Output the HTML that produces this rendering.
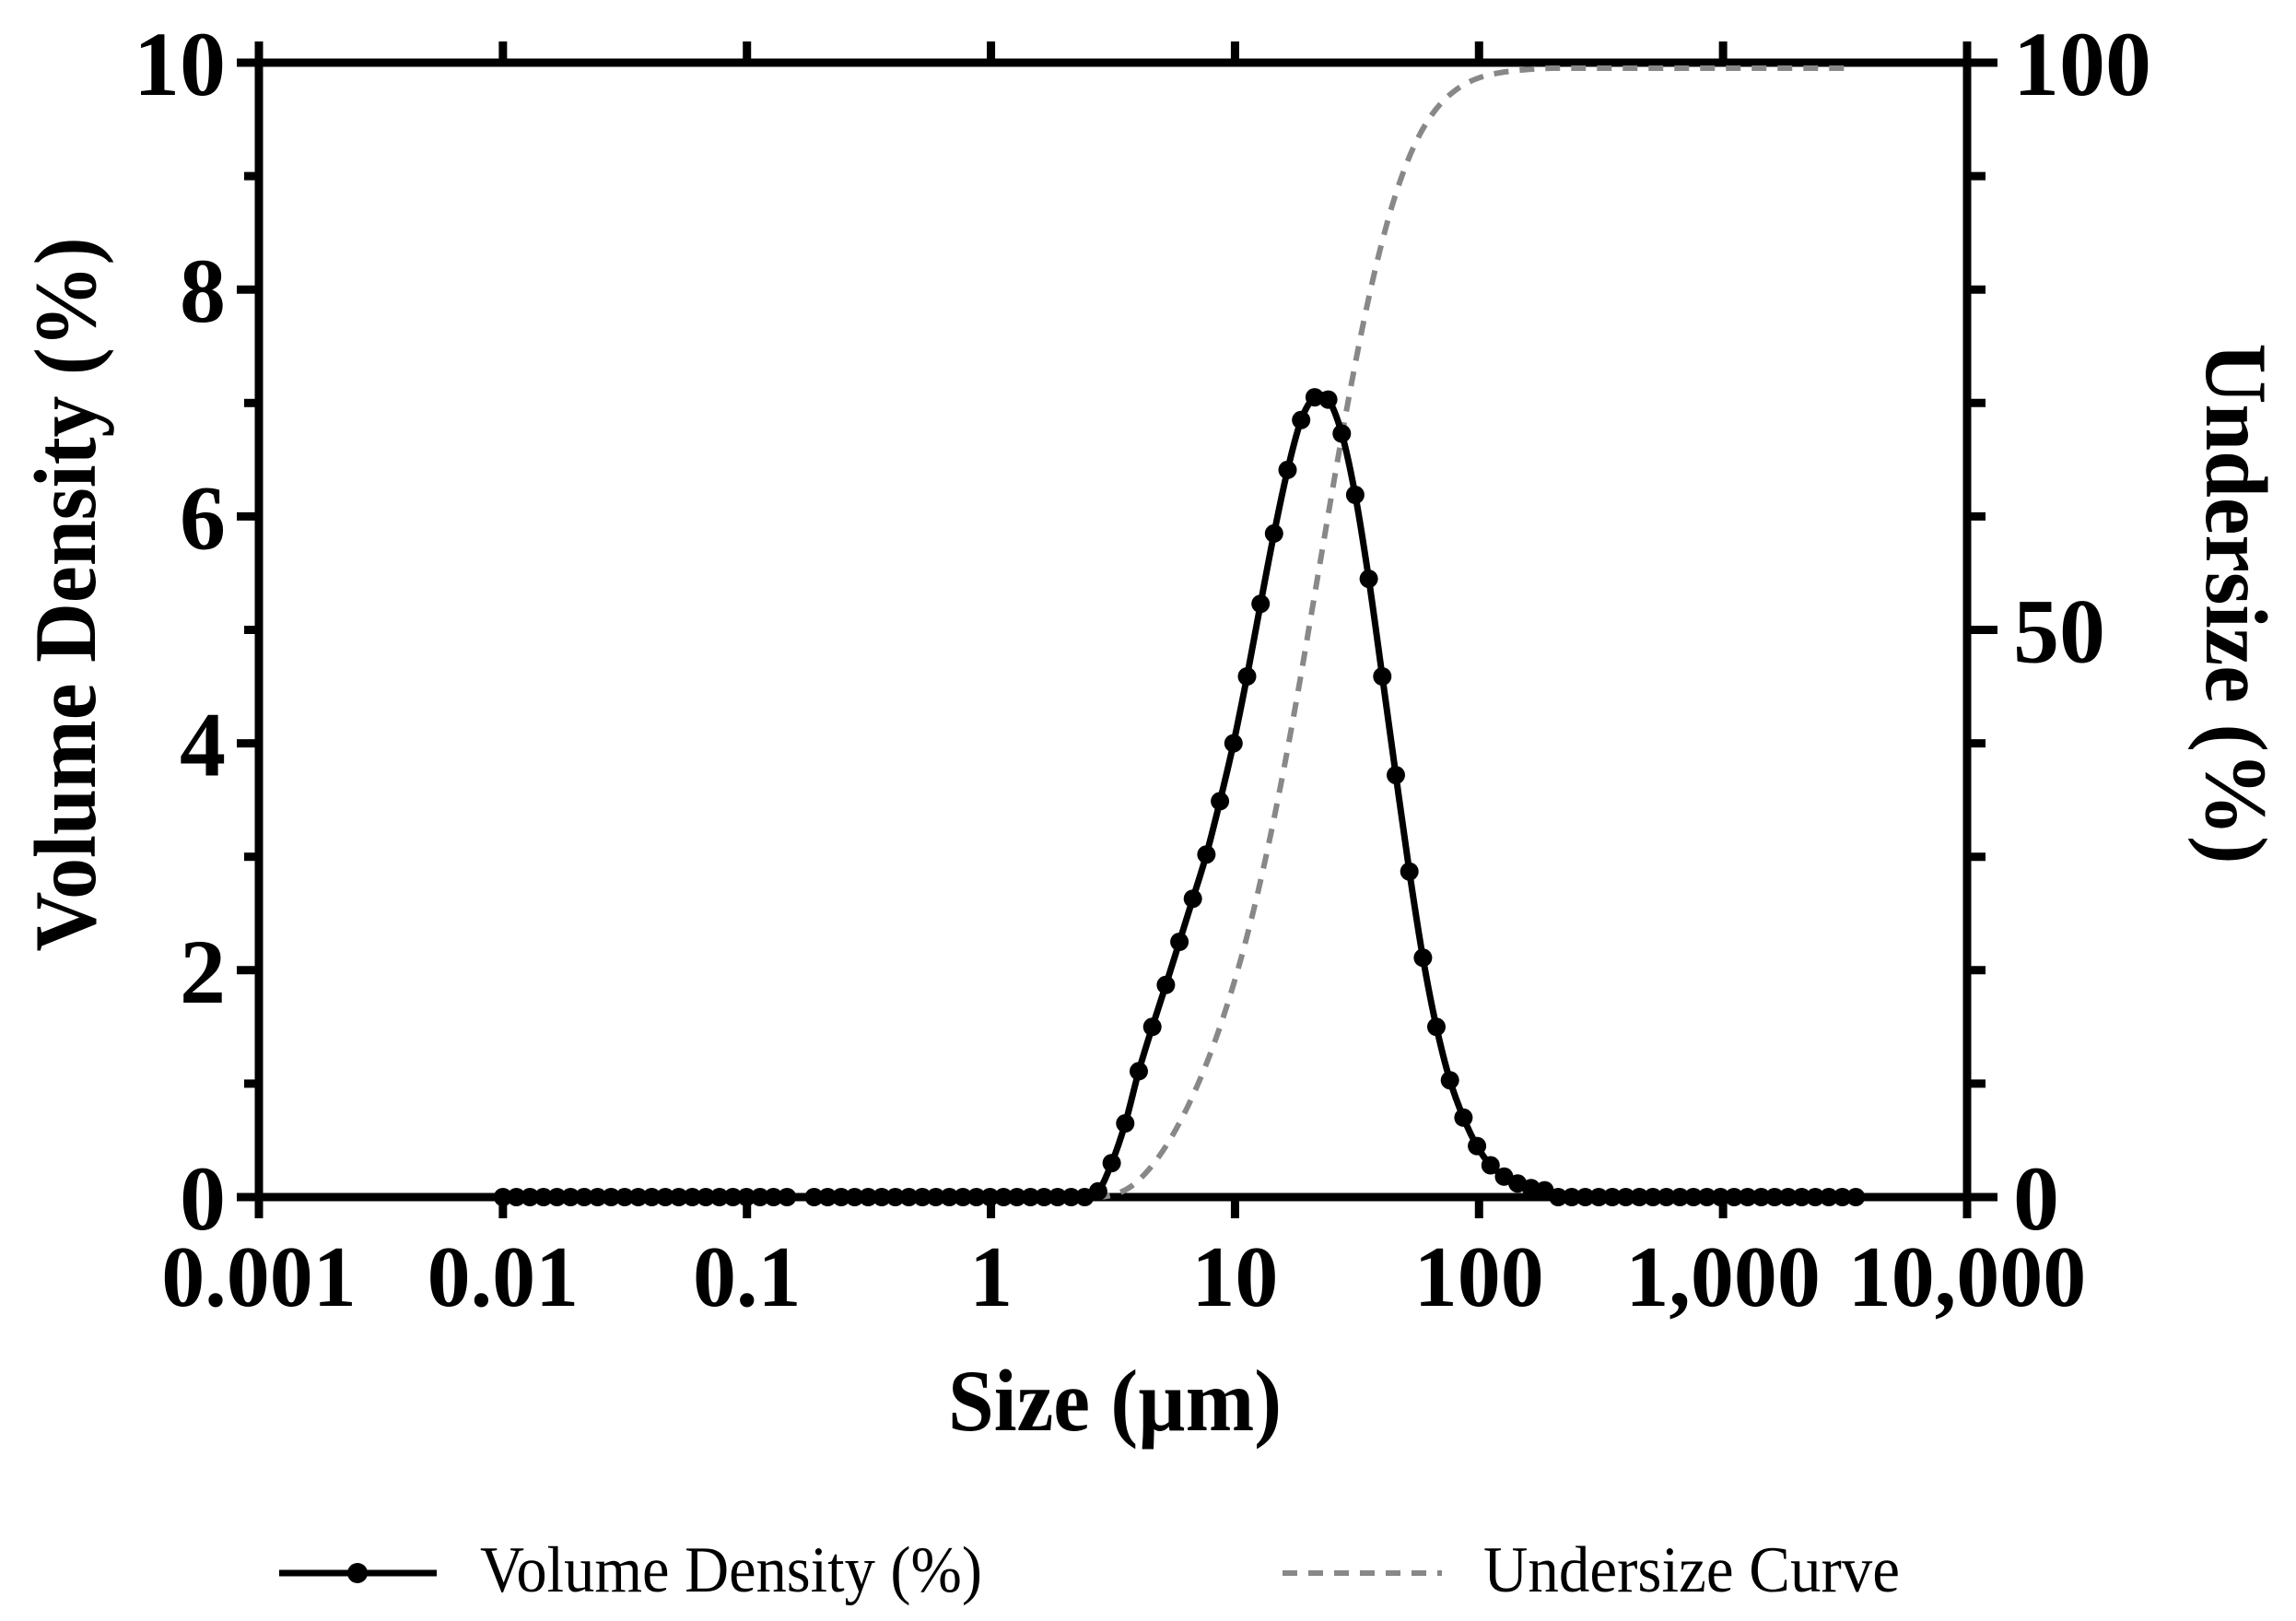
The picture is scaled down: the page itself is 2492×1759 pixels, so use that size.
<!DOCTYPE html>
<html><head><meta charset="utf-8"><style>
html,body{margin:0;padding:0;background:#fff;}
svg{display:block;}
text{font-family:"Liberation Serif","Times New Roman",serif;}
</style></head><body>
<svg id="s" width="2492" height="1759" viewBox="0 0 2492 1759" xmlns="http://www.w3.org/2000/svg">
<g id="g"></g>
<text x="1210" y="1552" font-size="95" font-weight="bold" text-anchor="middle" textLength="362" lengthAdjust="spacingAndGlyphs">Size (µm)</text>
<text transform="translate(103,645) rotate(-90)" font-size="95" font-weight="bold" text-anchor="middle" textLength="775" lengthAdjust="spacingAndGlyphs">Volume Density (%)</text>
<text transform="translate(2395,655) rotate(90)" font-size="95" font-weight="bold" text-anchor="middle" textLength="565" lengthAdjust="spacingAndGlyphs">Undersize (%)</text>
<line x1="303" y1="1707" x2="474" y2="1707" stroke="#000" stroke-width="7"/>
<circle cx="388" cy="1707" r="11" fill="#000"/>
<text x="521" y="1727" font-size="71" textLength="545" lengthAdjust="spacingAndGlyphs">Volume Density (%)</text>
<line x1="1392" y1="1707" x2="1565" y2="1707" stroke="#888" stroke-width="6" stroke-dasharray="16,12"/>
<text x="1610" y="1727" font-size="71" textLength="452" lengthAdjust="spacingAndGlyphs">Undersize Curve</text>
</svg>
<script>
(function(){
var g=document.getElementById('g'),h='';
var L=281,R=2135,T=68,B=1299,D=(R-L)/7;
function X(s){return L+(Math.log10(s)+3)*D;}
function Y(v){return B-(B-T)*v/10;}
var vals=[0.05,0.3,0.65,1.11,1.5,1.87,2.25,2.63,3.02,3.49,4.0,4.59,5.23,5.85,6.41,6.85,7.05,7.03,6.73,6.19,5.45,4.59,3.72,2.87,2.11,1.5,1.03,0.7,0.45,0.28,0.18,0.12,0.08,0.06];
var step=(Math.log10(3500)-Math.log10(0.01))/100;
var pts=[];
for(var i=0;i<=100;i++){
 var v=(i>=44&&i<=77)?vals[i-44]:0;
 pts.push([X(0.01)+i*step*D,Y(v),i]);
}
var tot=vals.reduce(function(a,b){return a+b},0);
var cp=[],c=0;
var TT=T+6;
cp.push([pts[44][0]-3,B]);
for(var i=44;i<=99;i++){
 if(i<=77)c+=vals[i-44];
 cp.push([pts[i][0]+step*D*0.5,B-(B-TT)*(c/tot)]);
}
function smooth(p){
 var d='M'+p[0][0].toFixed(1)+','+p[0][1].toFixed(1);
 for(var i=0;i<p.length-1;i++){
  var p0=p[Math.max(0,i-1)],p1=p[i],p2=p[i+1],p3=p[Math.min(p.length-1,i+2)];
  var c1x=p1[0]+(p2[0]-p0[0])/6,c1y=p1[1]+(p2[1]-p0[1])/6;
  var c2x=p2[0]-(p3[0]-p1[0])/6,c2y=p2[1]-(p3[1]-p1[1])/6;
  d+='C'+c1x.toFixed(1)+','+c1y.toFixed(1)+' '+c2x.toFixed(1)+','+c2y.toFixed(1)+' '+p2[0].toFixed(1)+','+p2[1].toFixed(1);
 }
 return d;
}
h+='<path d="M'+L+','+T+'H'+R+'V'+B+'H'+L+'Z" fill="none" stroke="#000" stroke-width="9"/>';
h+='<path d="'+smooth(cp)+'" fill="none" stroke="#888" stroke-width="6" stroke-dasharray="16,12"/>';
var xl=['0.001','0.01','0.1','1','10','100','1,000','10,000'];
for(var k=0;k<=7;k++){
 var x=L+k*D;
 h+='<line x1="'+x+'" y1="'+(T-23)+'" x2="'+x+'" y2="'+T+'" stroke="#000" stroke-width="9"/>';
 h+='<line x1="'+x+'" y1="'+B+'" x2="'+x+'" y2="'+(B+23)+'" stroke="#000" stroke-width="9"/>';
 h+='<text x="'+x+'" y="1417" font-size="94" font-weight="bold" text-anchor="middle">'+xl[k]+'</text>';
}
for(var v=0;v<=10;v++){
 var y=Y(v),maj=v%2==0;
 h+='<line x1="'+(L-(maj?24:16))+'" y1="'+y+'" x2="'+L+'" y2="'+y+'" stroke="#000" stroke-width="9"/>';
 if(maj)h+='<text x="245" y="'+(y+35)+'" font-size="100" font-weight="bold" text-anchor="end">'+v+'</text>';
}
for(var u=0;u<=100;u+=10){
 var y=B-(B-T)*u/100,maj=u%50==0;
 h+='<line x1="'+R+'" y1="'+y+'" x2="'+(R+(maj?33:20))+'" y2="'+y+'" stroke="#000" stroke-width="9"/>';
 if(maj)h+='<text x="2185" y="'+(y+35)+'" font-size="100" font-weight="bold">'+u+'</text>';
}
h+='<path d="'+smooth(pts)+'" fill="none" stroke="#000" stroke-width="7"/>';
for(var i=0;i<=100;i++){
 if(i==22)continue;
 h+='<circle cx="'+pts[i][0].toFixed(1)+'" cy="'+pts[i][1].toFixed(1)+'" r="10" fill="#000"/>';
}
g.innerHTML=h;
})();
</script>
</body></html>
